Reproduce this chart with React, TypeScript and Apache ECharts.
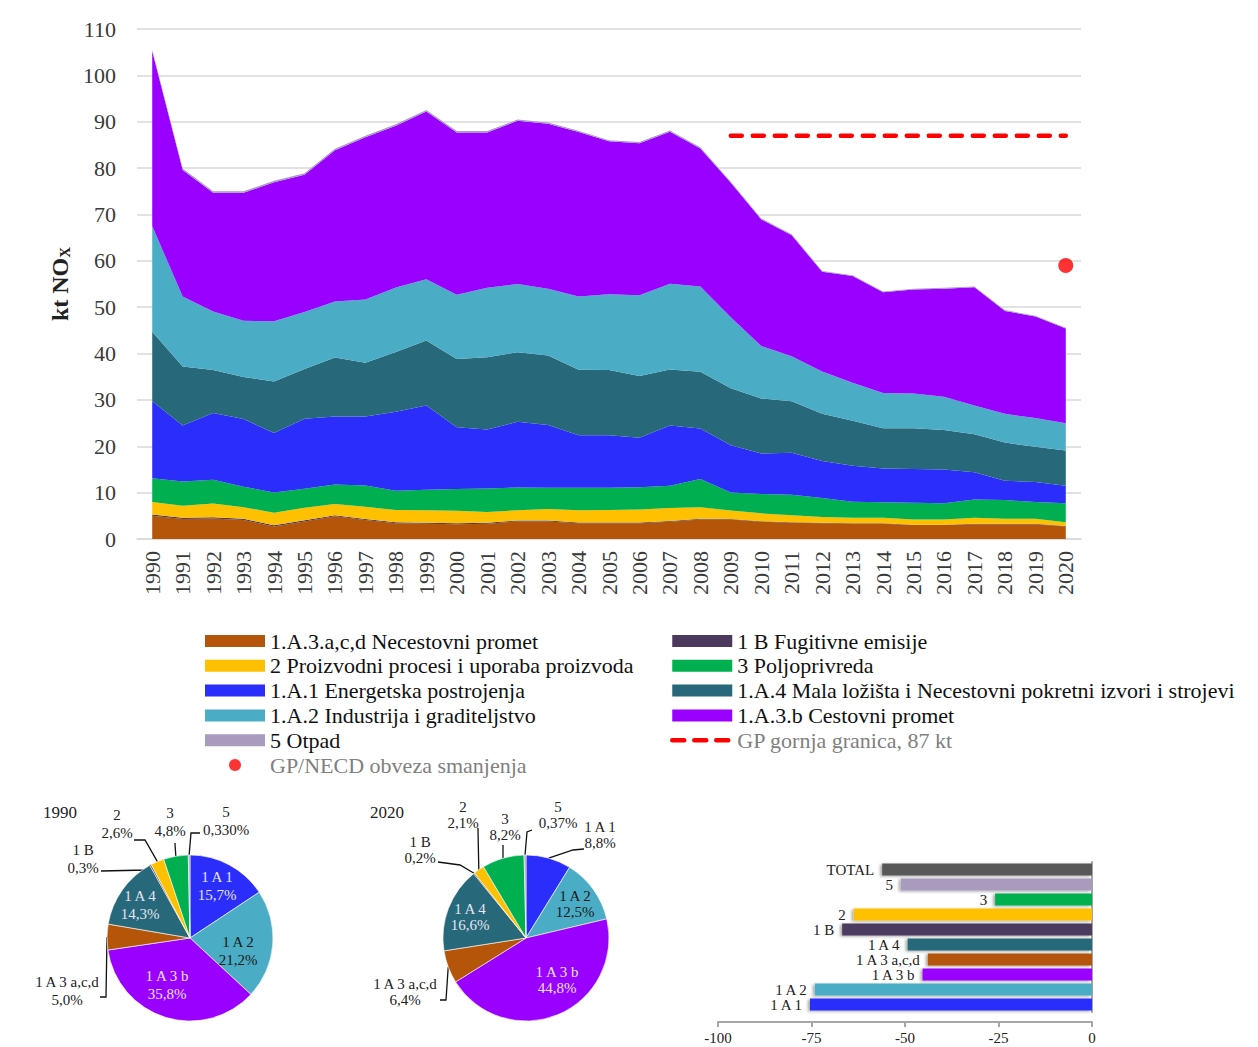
import React, { useEffect, useRef } from 'react';
import * as echarts from 'echarts';

const FONT = "'Liberation Serif', 'Times New Roman', serif";

const years = ['1990','1991','1992','1993','1994','1995','1996','1997','1998','1999','2000','2001','2002','2003','2004','2005','2006','2007','2008','2009','2010','2011','2012','2013','2014','2015','2016','2017','2018','2019','2020'];

// Stacked series (kt NOx), bottom to top
const necestovni = [5.0,4.3,4.4,4.1,2.7,3.8,4.9,4.1,3.4,3.3,3.2,3.3,3.8,3.8,3.4,3.4,3.4,3.7,4.2,4.2,3.7,3.5,3.4,3.3,3.3,3.0,3.0,3.2,3.2,3.2,2.7];
const fugitivne = [0.3,0.28,0.27,0.26,0.25,0.25,0.24,0.24,0.23,0.22,0.2,0.2,0.19,0.18,0.18,0.17,0.16,0.16,0.15,0.14,0.13,0.12,0.12,0.11,0.11,0.1,0.1,0.1,0.09,0.09,0.09];
const proizvodni = [2.7,2.6,3.0,2.5,2.7,2.7,2.4,2.6,2.6,2.7,2.7,2.3,2.2,2.5,2.6,2.7,2.8,2.8,2.5,1.8,1.7,1.5,1.2,1.2,1.2,1.1,1.1,1.3,1.1,1.1,0.8];
const poljoprivreda = [5.1,5.2,5.1,4.4,4.4,4.1,4.2,4.6,4.2,4.4,4.7,5.1,4.9,4.6,4.9,4.8,4.8,4.8,6.1,3.9,4.2,4.4,4.1,3.4,3.3,3.6,3.5,3.9,4.0,3.6,4.1];
const energetska = [16.6,12.1,14.4,14.6,12.8,15.1,14.7,14.9,17.0,18.2,13.3,12.7,14.2,13.5,11.3,11.3,10.7,13.0,10.9,10.2,8.7,9.1,8.0,7.8,7.3,7.3,7.3,5.9,4.2,4.3,3.8];
const malaLozista = [15.0,12.7,9.3,9.1,11.1,10.7,12.7,11.6,12.9,14.0,14.7,15.6,15.0,15.0,14.1,14.1,13.3,12.1,12.2,12.3,11.9,11.1,10.2,9.7,8.7,8.8,8.5,8.2,8.2,7.6,7.6];
const industrija = [22.8,15.1,12.6,12.1,13.0,12.3,12.1,13.6,13.9,13.2,13.9,15.0,14.7,14.4,15.8,16.3,17.4,18.5,18.4,15.3,11.3,9.7,9.1,8.2,7.6,7.5,7.2,6.2,6.2,6.2,5.9];
const cestovni = [37.7,27.3,25.6,27.6,30.0,29.6,32.6,35.0,34.9,36.2,35.0,33.5,35.2,35.6,35.5,33.0,32.8,32.8,29.8,29.0,27.3,26.1,21.5,23.0,21.7,22.4,23.3,25.5,22.2,21.9,20.4];
const otpad = [0.35,0.34,0.33,0.33,0.32,0.32,0.31,0.31,0.30,0.30,0.29,0.28,0.28,0.27,0.26,0.25,0.25,0.24,0.23,0.22,0.21,0.21,0.2,0.2,0.19,0.19,0.18,0.18,0.18,0.17,0.17];
const gpUpper = [null,null,null,null,null,null,null,null,null,null,null,null,null,null,null,null,null,null,null,87,87,87,87,87,87,87,87,87,87,87,87];
const necdYears = ['2020'];
const necdValues = [59];

// Pies
const pieNames = ['1 A 1','1 A 2','1 A 3 b','1 A 3 a,c,d','1 A 4','1 B','2','3','5'];
const pie1990 = [15.7,21.2,35.8,5.0,14.3,0.3,2.6,4.8,0.330];
const pie1990Dec = [1,1,1,1,1,1,1,1,3];
const pie2020 = [8.8,12.5,44.8,6.4,16.6,0.2,2.1,8.2,0.37];
const pie2020Dec = [1,1,1,1,1,1,1,1,2];

// Bars: change 1990-2020 (%)
const barCats = ['1 A 1','1 A 2','1 A 3 b','1 A 3 a,c,d','1 A 4','1 B','2','3','5','TOTAL'];
const barValues = [-75.4,-74.1,-45.3,-43.9,-49.3,-66.8,-63.7,-25.9,-51.1,-56.1];

const C = {
  acd: '#B4550A', b1: '#4B3A5E', p2: '#FFC000', p3: '#00B050', a1: '#2B2EFA',
  a4: '#27697A', a2: '#4BACC6', a3b: '#9900FF', p5: '#A99BBD', total: '#595959',
};
const pieColors = [C.a1, C.a2, C.a3b, C.acd, C.a4, C.b1, C.p2, C.p3, C.p5];
const barColors = [C.a1, C.a2, C.a3b, C.acd, C.a4, C.b1, C.p2, C.p3, C.p5, C.total];

const S = {
  acd: '1.A.3.a,c,d Necestovni promet',
  b1: '1 B Fugitivne emisije',
  p2: '2 Proizvodni procesi i uporaba proizvoda',
  p3: '3 Poljoprivreda',
  a1: '1.A.1 Energetska postrojenja',
  a4: '1.A.4 Mala ložišta i Necestovni pokretni izvori i strojevi',
  a2: '1.A.2 Industrija i graditeljstvo',
  a3b: '1.A.3.b Cestovni promet',
  p5: '5 Otpad',
  gp: 'GP gornja granica, 87 kt',
  necd: 'GP/NECD obveza smanjenja',
};

// label layout (relative to pie centre)
const pos1990: any = {
  '1 A 1': { x: 27, y: -52 },
  '1 A 2': { x: 48, y: 13 },
  '1 A 3 b': { x: -23, y: 47 },
  '1 A 4': { x: -50, y: -33 },
  '5': { x: 36, y: -99, va: 'bottom', line: [[1, -105], [10, -105]] },
  '3': { x: -20, y: -98, va: 'bottom', line: [[-15, -94], [-15, -95]] },
  '2': { x: -73, y: -96, va: 'bottom', line: [[-45, -98], [-56, -98]] },
  '1 B': { x: -107, y: -61, va: 'bottom', line: [[-43, -68], [-89, -67]] },
  '1 A 3 a,c,d': { x: -123, y: 71, va: 'bottom', line: [[-84, 59], [-90, 59]] },
};
const pos2020: any = {
  '1 A 2': { x: 49, y: -34 },
  '1 A 4': { x: -56, y: -21 },
  '1 A 3 b': { x: 31, y: 42 },
  '5': { x: 32, y: -107, va: 'bottom', line: [[1, -106], [6, -108]] },
  '3': { x: -21, y: -95, va: 'bottom', line: [[-23, -92], [-23, -93]] },
  '2': { x: -63, y: -107, va: 'bottom', line: [[-48, -108], [-48, -110]] },
  '1 A 1': { x: 74, y: -87, va: 'bottom', line: [[47, -88], [58, -89]] },
  '1 B': { x: -106, y: -72, va: 'bottom', line: [[-66, -73], [-88, -76]] },
  '1 A 3 a,c,d': { x: -121, y: 70, va: 'bottom', line: [[-80, 62], [-86, 62]] },
};

function makeLayout(cx: number, cy: number, r: number, vals: number[], pos: any) {
  const total = vals.reduce((a, b) => a + b, 0);
  const mids: number[] = [];
  let acc = 0;
  vals.forEach((v) => { mids.push(((acc + v / 2) / total) * Math.PI * 2); acc += v; });
  return (params: any) => {
    const name = pieNames[params.dataIndex];
    const p = pos[name];
    if (!p) return {};
    const res: any = { x: cx + p.x, y: cy + p.y, align: 'center', verticalAlign: p.va || 'middle' };
    if (p.line) {
      const a = mids[params.dataIndex];
      const start = [cx + r * Math.sin(a), cy - r * Math.cos(a)];
      res.labelLinePoints = [start, [cx + p.line[0][0], cy + p.line[0][1]], [cx + p.line[1][0], cy + p.line[1][1]]];
    }
    return res;
  };
}

function pieSeries(cx: number, cy: number, vals: number[], dec: number[], inside: string[], pos: any, lh: number) {
  return {
    type: 'pie',
    center: [cx, cy],
    radius: 83,
    startAngle: 90,
    clockwise: true,
    avoidLabelOverlap: false,
    itemStyle: { borderColor: '#ffffff', borderWidth: 0.6 },
    label: { fontFamily: FONT, fontSize: 15, lineHeight: lh, color: '#222' },
    labelLine: { lineStyle: { color: '#111', width: 1.3 }, length: 10, length2: 10 },
    labelLayout: makeLayout(cx, cy, 83, vals, pos),
    data: pieNames.map((n, i) => {
      const isIn = inside.indexOf(n) >= 0;
      return {
        name: n,
        value: vals[i],
        itemStyle: { color: pieColors[i] },
        label: {
          position: isIn ? 'inside' : 'outside',
          color: isIn ? (n === '1 A 2' ? '#1a1a1a' : '#e4e4f2') : '#222',
          formatter: () => n + '\n' + vals[i].toFixed(dec[i]).replace('.', ',') + '%',
        },
        labelLine: { show: !isIn },
      };
    }),
  };
}

function areaSeries(name: string, data: number[], color: string) {
  return {
    name, type: 'line', stack: 'total', xAxisIndex: 0, yAxisIndex: 0, data,
    symbol: 'none', lineStyle: { width: 0 }, itemStyle: { color },
    areaStyle: { color, opacity: 1 },
  };
}

const legendText = { fontFamily: FONT, fontSize: 22, lineHeight: 22, color: '#111' };
const gray = { color: '#808080' };

const option: any = {
  animation: false,
  backgroundColor: '#ffffff',
  title: [
    { text: '1990', left: 43, top: 804, padding: 0, textStyle: { fontFamily: FONT, fontSize: 17, fontWeight: 'normal', color: '#222' } },
    { text: '2020', left: 370, top: 804, padding: 0, textStyle: { fontFamily: FONT, fontSize: 17, fontWeight: 'normal', color: '#222' } },
  ],
  legend: [
    {
      left: 205, top: 630, padding: 0, orient: 'vertical', itemWidth: 60, itemHeight: 12, itemGap: 2.8,
      textStyle: legendText,
      data: [
        { name: S.acd, icon: 'rect' }, { name: S.p2, icon: 'rect' }, { name: S.a1, icon: 'rect' },
        { name: S.a2, icon: 'rect' }, { name: S.p5, icon: 'rect' },
        { name: S.necd, icon: 'circle', textStyle: gray },
      ],
    },
    {
      left: 670, top: 630, padding: 0, orient: 'vertical', itemWidth: 60, itemHeight: 12, itemGap: 2.8,
      textStyle: legendText,
      data: [
        { name: S.b1, icon: 'rect' }, { name: S.p3, icon: 'rect' }, { name: S.a4, icon: 'rect' },
        { name: S.a3b, icon: 'rect' },
        { name: S.gp, textStyle: gray, itemStyle: { opacity: 0 }, lineStyle: { width: 4.5, type: [12, 10], cap: 'round', color: '#ff0000' } },
      ],
    },
  ],
  grid: [
    { left: 137, right: 177, top: 29, bottom: 508 },
    { left: 718, right: 166, top: 862, height: 150 },
  ],
  xAxis: [
    {
      type: 'category', gridIndex: 0, data: years, boundaryGap: true,
      axisLine: { show: true, lineStyle: { color: '#d9d9d9', width: 1.5 } },
      axisTick: { show: false },
      axisLabel: { rotate: 90, interval: 0, fontFamily: FONT, fontSize: 22, color: '#3a3a3a', margin: 12 },
    },
    {
      type: 'value', gridIndex: 1, min: -100, max: 0, interval: 25, offset: 10,
      axisLine: { show: true, onZero: false, lineStyle: { color: '#a6a6a6', width: 2 } },
      axisTick: { show: true, length: 5, lineStyle: { color: '#a6a6a6', width: 2 } },
      splitLine: { show: false },
      axisLabel: { fontFamily: FONT, fontSize: 15, color: '#222', margin: 8 },
    },
  ],
  yAxis: [
    {
      type: 'value', gridIndex: 0, min: 0, max: 110, interval: 10,
      axisLine: { show: false }, axisTick: { show: false },
      splitLine: { lineStyle: { color: '#d9d9d9', width: 1.5 } },
      axisLabel: { fontFamily: FONT, fontSize: 22, color: '#3a3a3a', margin: 21 },
      name: '{a|kt NO}{b|X}', nameLocation: 'middle', nameRotate: 90, nameGap: 65,
      nameTextStyle: {
        rich: {
          a: { fontFamily: FONT, fontSize: 24, fontWeight: 'bold', color: '#222' },
          b: { fontFamily: FONT, fontSize: 15, fontWeight: 'bold', color: '#222', verticalAlign: 'bottom' },
        },
      },
    },
    {
      type: 'category', gridIndex: 1, data: barCats, position: 'right',
      axisLine: { show: true, onZero: false, lineStyle: { color: '#a6a6a6', width: 2 } },
      axisTick: { show: false }, axisLabel: { show: false }, splitLine: { show: false },
    },
  ],
  series: [
    areaSeries(S.acd, necestovni, C.acd),
    areaSeries(S.b1, fugitivne, C.b1),
    areaSeries(S.p2, proizvodni, C.p2),
    areaSeries(S.p3, poljoprivreda, C.p3),
    areaSeries(S.a1, energetska, C.a1),
    areaSeries(S.a4, malaLozista, C.a4),
    areaSeries(S.a2, industrija, C.a2),
    areaSeries(S.a3b, cestovni, C.a3b),
    areaSeries(S.p5, otpad, C.p5),
    {
      name: S.gp, type: 'line', xAxisIndex: 0, yAxisIndex: 0, data: gpUpper, symbol: 'none',
      itemStyle: { color: '#ff0000' },
      lineStyle: { color: '#ff0000', width: 4.5, type: [11, 11], cap: 'round' },
    },
    {
      name: S.necd, type: 'scatter', xAxisIndex: 0, yAxisIndex: 0,
      data: necdYears.map((y, i) => [y, necdValues[i]]), symbolSize: 15,
      itemStyle: { color: '#ff0000' },
    },
    pieSeries(190, 938, pie1990, pie1990Dec, ['1 A 1', '1 A 2', '1 A 3 b', '1 A 4'], pos1990, 18),
    pieSeries(526, 938, pie2020, pie2020Dec, ['1 A 2', '1 A 3 b', '1 A 4'], pos2020, 16),
    {
      type: 'bar', xAxisIndex: 1, yAxisIndex: 1, barWidth: 12,
      data: barValues.map((v, i) => ({ value: v, itemStyle: { color: barColors[i] } })),
      itemStyle: { shadowColor: 'rgba(0,0,0,0.35)', shadowBlur: 3, shadowOffsetX: -2, shadowOffsetY: 1 },
      label: { show: true, position: 'left', formatter: '{b}', distance: 8, fontFamily: FONT, fontSize: 15, color: '#222' },
    },
  ],
};

export default function App() {
  const ref = useRef<HTMLDivElement>(null);
  useEffect(() => {
    const chart = echarts.init(ref.current!, null, { renderer: 'svg' });
    chart.setOption(option);
    return () => chart.dispose();
  }, []);
  return <div ref={ref} style={{ position: 'fixed', left: 0, top: 0, width: 1258, height: 1047 }} />;
}
